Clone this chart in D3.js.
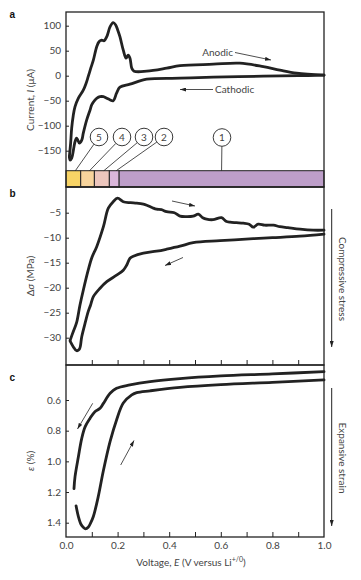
<!DOCTYPE html>
<html>
<head>
<meta charset="utf-8">
<script src="https://cdn.jsdelivr.net/npm/d3@7"></script>
<style>
  html, body { margin: 0; padding: 0; background: #fff; }
  svg { display: block; font-family: Lato, "Open Sans", sans-serif; }
</style>
</head>
<body>
<div id="chart"></div>
<script>
// panel a: cyclic voltammogram, [voltage, current µA]
const anodicCurrent = [
  [0.013, -162], [0.018, -135], [0.022, -105], [0.028, -80], [0.035, -62], [0.048, -45],
  [0.067, -29], [0.078, -15], [0.086, -2], [0.096, 15], [0.106, 31], [0.119, 58],
  [0.128, 68], [0.138, 71], [0.148, 70], [0.158, 78], [0.171, 98], [0.183, 106],
  [0.192, 102], [0.2, 92], [0.209, 78], [0.222, 51], [0.233, 35], [0.241, 41],
  [0.248, 35], [0.255, 15], [0.264, 9], [0.313, 9], [0.39, 15], [0.442, 20],
  [0.571, 23], [0.674, 25], [0.765, 18], [0.829, 11], [0.894, 5], [1.0, 1]
];
const cathodicCurrent = [
  [1.0, 1], [0.9, 0], [0.765, -1], [0.571, -3], [0.442, -5], [0.313, -7], [0.248, -17],
  [0.209, -23], [0.196, -35], [0.183, -50], [0.17, -48], [0.158, -45], [0.145, -42],
  [0.132, -42], [0.12, -45], [0.112, -49], [0.1, -58], [0.093, -69], [0.08, -89],
  [0.067, -115], [0.061, -129], [0.052, -135], [0.045, -128], [0.041, -125],
  [0.035, -132], [0.031, -142], [0.022, -165], [0.016, -169], [0.013, -162]
];

// panel b: stress change, [voltage, MPa]
const anodicStress = [
  [0.016, -30.5], [0.028, -28.8], [0.041, -27], [0.054, -23.5], [0.067, -20.5],
  [0.086, -16.5], [0.1, -14], [0.119, -11.8], [0.145, -7.8], [0.164, -4.1],
  [0.183, -2.8], [0.2, -2.1], [0.222, -2.8], [0.25, -3.0], [0.274, -3.1], [0.3, -3.3],
  [0.313, -3.5], [0.335, -4.0], [0.351, -4.3], [0.37, -4.4], [0.39, -4.8], [0.42, -5.0],
  [0.442, -5.7], [0.47, -5.8], [0.493, -5.7], [0.513, -5.3], [0.53, -6.0], [0.545, -6.3],
  [0.57, -6.4], [0.603, -6.0], [0.62, -6.7], [0.636, -6.9], [0.66, -7.0], [0.687, -7.1],
  [0.71, -7.3], [0.726, -7.9], [0.745, -7.3], [0.77, -7.5], [0.804, -7.5], [0.829, -7.8],
  [0.86, -8.0], [0.907, -8.3], [0.958, -8.5], [1.0, -8.5]
];
const cathodicStress = [
  [1.0, -9.3], [0.907, -9.7], [0.8, -10.0], [0.726, -10.2], [0.597, -10.6], [0.493, -11.0],
  [0.442, -11.7], [0.39, -12.3], [0.351, -12.7], [0.3, -13.1], [0.261, -13.7],
  [0.248, -14.1], [0.235, -15.5], [0.222, -16.5], [0.196, -17.5], [0.158, -18.8],
  [0.132, -20.1], [0.106, -21.8], [0.095, -23.5], [0.086, -24.8], [0.074, -27.1],
  [0.061, -29.8], [0.052, -32.3], [0.041, -32.6], [0.028, -31.8], [0.016, -30.7]
];

// panel c: strain, [voltage, %]
const cathodicStrain = [
  [1.0, 0.415], [0.8, 0.43], [0.6, 0.443], [0.442, 0.46], [0.326, 0.48], [0.248, 0.502],
  [0.196, 0.524], [0.171, 0.556], [0.145, 0.622], [0.132, 0.654], [0.112, 0.676],
  [0.093, 0.72], [0.074, 0.775], [0.061, 0.85], [0.048, 0.97], [0.035, 1.10], [0.031, 1.178]
];
const anodicStrain = [
  [0.039, 1.29], [0.048, 1.36], [0.058, 1.41], [0.067, 1.43], [0.076, 1.44], [0.086, 1.43],
  [0.096, 1.40], [0.106, 1.36], [0.125, 1.23], [0.145, 1.06], [0.171, 0.87], [0.196, 0.73],
  [0.222, 0.62], [0.255, 0.567], [0.274, 0.552], [0.326, 0.54], [0.442, 0.518],
  [0.6, 0.5], [0.8, 0.485], [1.0, 0.469]
];

// lithiation stages along the voltage bar
const stageEdges = [0, 0.057, 0.11, 0.168, 0.206, 1.0];
const stageNames = ["5", "4", "3", "2", "1"];
const stageColors = ["#f8d466", "#f7d49c", "#ecc6bd", "#dab6da", "#bd9ec9"];

const voltageTicks = [0, 0.2, 0.4, 0.6, 0.8, 1.0];
const minorTicks = [0.1, 0.2, 0.3, 0.4, 0.5, 0.6, 0.7, 0.8, 0.9];
const currentTicks = [100, 50, 0, -50, -100, -150];
const stressTicks = [-5, -10, -15, -20, -25, -30];
const strainTicks = [0.6, 0.8, 1.0, 1.2, 1.4];

const W = 361, H = 580;
const L = 66, R = 324;
const INK = "#222";
const TXT = "#444";

const svg = d3.select("#chart").append("svg")
  .attr("width", W)
  .attr("height", H);

const defs = svg.append("defs");
defs.append("marker")
  .attr("id", "head")
  .attr("viewBox", "0 0 6 4")
  .attr("refX", 6).attr("refY", 2)
  .attr("markerWidth", 6).attr("markerHeight", 4)
  .attr("markerUnits", "userSpaceOnUse")
  .attr("orient", "auto")
  .append("path").attr("d", "M0,0L6,2L0,4Z").attr("fill", INK);

const x = d3.scaleLinear().domain([0, 1]).range([L, R]);
const yA = d3.scaleLinear().domain([-150, 100]).range([150.7, 25.7]);
const yB = d3.scaleLinear().domain([-30, -5]).range([337.7, 212.7]);
const yC = d3.scaleLinear().domain([0.6, 1.4]).range([400, 522.7]);

const panels = [
  { top: 12, bottom: 187, y: yA, ticks: currentTicks, fmt: d3.format("d"), name: "a" },
  { top: 187, bottom: 365, y: yB, ticks: stressTicks, fmt: d3.format("d"), name: "b" },
  { top: 365, bottom: 537, y: yC, ticks: strainTicks, fmt: d3.format(".1f"), name: "c" }
];

function styleAxis(g) {
  g.select(".domain").remove();
  g.selectAll(".tick line").attr("stroke", INK).attr("stroke-width", 1);
  g.selectAll(".tick text")
    .attr("fill", TXT)
    .style("font-size", "10px")
    .style("font-family", "Lato, sans-serif");
}

const labelY = [18.3, 196.7, 380.7];

panels.forEach((p, i) => {
  svg.append("g")
    .attr("transform", `translate(${L},0)`)
    .call(d3.axisLeft(p.y).tickValues(p.ticks).tickFormat(p.fmt).tickSize(-3).tickPadding(5))
    .call(styleAxis);

  svg.append("g")
    .attr("transform", `translate(0,${p.bottom})`)
    .call(d3.axisBottom(x).tickValues(minorTicks).tickFormat("").tickSize(-5))
    .call(styleAxis);

  svg.append("text")
    .attr("x", 9.5)
    .attr("y", labelY[i])
    .attr("fill", "#111")
    .style("font-family", "'Liberation Sans', Arial, sans-serif")
    .style("font-weight", "700")
    .style("font-size", "10px")
    .text(p.name);
});

// voltage tick labels under panel c
svg.append("g")
  .attr("transform", "translate(0,537)")
  .call(d3.axisBottom(x).tickValues(voltageTicks).tickFormat(d3.format(".1f")).tickSize(0).tickPadding(5))
  .call(styleAxis);

// stage bar
const barTop = 170.7, barBottom = 187;
const stages = stageNames.map((n, i) => ({
  name: n, x0: stageEdges[i], x1: stageEdges[i + 1], color: stageColors[i]
}));

svg.append("g").selectAll("rect")
  .data(stages)
  .join("rect")
  .attr("x", d => x(d.x0))
  .attr("y", barTop)
  .attr("width", d => x(d.x1) - x(d.x0))
  .attr("height", barBottom - barTop)
  .attr("fill", d => d.color)
  .attr("stroke", INK)
  .attr("stroke-width", 1);

// stage callouts
const calloutPos = [[99, 137], [122, 137], [144, 137], [164, 137], [222, 137.5]];
const rC = 8.8;
const callouts = svg.append("g");
stages.forEach((d, i) => {
  const [cx, cy] = calloutPos[i];
  const tx = (x(d.x0) + x(d.x1)) / 2 + (i < 4 ? 2 : 0);
  const ty = barTop;
  const dx = tx - cx, dy = ty - cy, len = Math.hypot(dx, dy);
  callouts.append("line")
    .attr("x1", cx + rC * dx / len).attr("y1", cy + rC * dy / len)
    .attr("x2", tx).attr("y2", ty)
    .attr("stroke", INK).attr("stroke-width", 0.8);
  callouts.append("circle")
    .attr("cx", cx).attr("cy", cy).attr("r", rC)
    .attr("fill", "#fff").attr("stroke", INK).attr("stroke-width", 0.9);
  callouts.append("text")
    .attr("x", cx).attr("y", cy + 3.6)
    .attr("text-anchor", "middle")
    .attr("fill", TXT)
    .style("font-size", "10px")
    .text(d.name);
});

// frames
panels.forEach(p => {
  svg.append("rect")
    .attr("x", L).attr("y", p.top)
    .attr("width", R - L).attr("height", p.bottom - p.top)
    .attr("fill", "none")
    .attr("stroke", INK)
    .attr("stroke-width", 1.3);
});

// curves
const drawCurve = (data, y) => svg.append("path")
  .datum(data)
  .attr("fill", "none")
  .attr("stroke", INK)
  .attr("stroke-width", 2.8)
  .attr("stroke-linejoin", "round")
  .attr("stroke-linecap", "round")
  .attr("d", d3.line().x(d => x(d[0])).y(d => y(d[1])).curve(d3.curveCatmullRom.alpha(0.5)));

drawCurve(anodicCurrent, yA);
drawCurve(cathodicCurrent, yA);
drawCurve(anodicStress, yB);
drawCurve(cathodicStress, yB);
drawCurve(cathodicStrain, yC);
drawCurve(anodicStrain, yC);

// thin annotation arrows
function arrow(x1, y1, x2, y2, w = 0.8) {
  svg.append("line")
    .attr("x1", x1).attr("y1", y1).attr("x2", x2).attr("y2", y2)
    .attr("stroke", INK).attr("stroke-width", w)
    .attr("marker-end", "url(#head)");
}

arrow(235, 52.5, 271, 60);
arrow(213, 89.5, 180, 89.5);
arrow(172, 201, 195, 206);
arrow(183, 257.5, 165, 265.5);
arrow(92.7, 403.3, 77.5, 429);
arrow(120.7, 465, 134, 440.5);
arrow(331.7, 209, 331.7, 347, 1);
arrow(331.7, 388, 331.7, 526, 1);

const note = (tx, ty, anchor, str) => svg.append("text")
  .attr("x", tx).attr("y", ty)
  .attr("text-anchor", anchor)
  .attr("fill", TXT)
  .style("font-size", "10px")
  .text(str);

note(233, 56, "end", "Anodic");
note(215, 93, "start", "Cathodic");

// vertical side notes
[["Compressive stress", 279], ["Expansive strain", 458]].forEach(([str, cy]) => {
  svg.append("text")
    .attr("transform", `translate(338.5,${cy}) rotate(90)`)
    .attr("text-anchor", "middle")
    .attr("fill", TXT)
    .style("font-size", "10px")
    .text(str);
});

// y axis titles
function yTitle(cy, parts) {
  const t = svg.append("text")
    .attr("transform", `translate(33.5,${cy}) rotate(-90)`)
    .attr("text-anchor", "middle")
    .attr("fill", TXT)
    .style("font-size", "10px");
  parts.forEach(([s, it]) => t.append("tspan").style("font-style", it ? "italic" : "normal").text(s));
}
yTitle(100, [["Current, ", 0], ["I", 1], [" (μA)", 0]]);
yTitle(276, [["Δ", 0], ["σ", 1], [" (MPa)", 0]]);
yTitle(461, [["ε", 1], [" (%)", 0]]);

// x axis title
const xt = svg.append("text")
  .attr("x", 191).attr("y", 566)
  .attr("text-anchor", "middle")
  .attr("fill", TXT)
  .style("font-size", "10px");
xt.append("tspan").text("Voltage, ");
xt.append("tspan").style("font-style", "italic").text("E");
xt.append("tspan").text(" (V versus Li");
xt.append("tspan").attr("dy", -4).style("font-size", "7px").text("+/0");
xt.append("tspan").attr("dy", 4).text(")");
</script>
</body>
</html>
